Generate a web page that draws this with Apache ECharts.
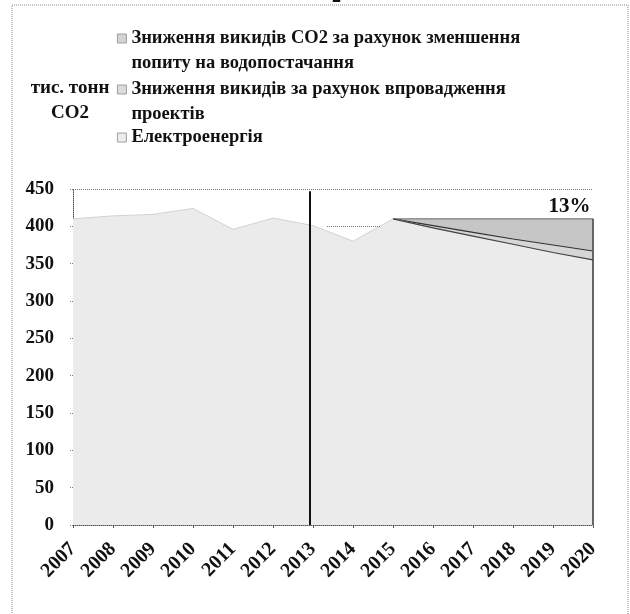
<!DOCTYPE html>
<html>
<head>
<meta charset="utf-8">
<script src="https://cdn.jsdelivr.net/npm/echarts@6/dist/echarts.min.js"></script>
<style>
  html, body { margin: 0; padding: 0; background: #ffffff; }
  #chart { width: 630px; height: 614px; }
</style>
</head>
<body>
<div id="chart"></div>
<script>
// Years on the horizontal axis
const years = [2007, 2008, 2009, 2010, 2011, 2012, 2013, 2014, 2015, 2016, 2017, 2018, 2019, 2020];

// Emissions from electricity, thousand tonnes CO2
const electricity = [410, 414, 416, 424, 396, 411, 401, 380, 410, 398, 387, 376, 365, 355];
// Reduction from implemented projects (only from 2015)
const projectReduction = [null, null, null, null, null, null, null, null, 0, 3, 5, 7, 10, 12];
// Reduction from lower water-supply demand (only from 2015)
const demandReduction = [null, null, null, null, null, null, null, null, 0, 9, 18, 27, 35, 43];

// Y axis ticks
const yTicks = [0, 50, 100, 150, 200, 250, 300, 350, 400, 450];

const nameDemand = 'Зниження викидів CO2 за рахунок зменшення\nпопиту на водопостачання';
const nameProjects = 'Зниження викидів за рахунок впровадження\nпроектів';
const nameElectricity = 'Електроенергія';

const serif = '"Liberation Serif", "Times New Roman", serif';

// Layers are drawn as cumulative totals, each filled down to zero
const withProjects = electricity.map((v, i) => projectReduction[i] == null ? null : v + projectReduction[i]);
const withDemand = withProjects.map((v, i) => v == null || demandReduction[i] == null ? null : v + demandReduction[i]);
const electricityForecast = electricity.map((v, i) => projectReduction[i] == null ? null : v);

const toPairs = arr => years.map((y, i) => [y, arr[i]]);

// Share of emissions cut by 2020
const last = years.length - 1;
const cutShare = Math.round((projectReduction[last] + demandReduction[last]) / withDemand[last] * 100);

const chart = echarts.init(document.getElementById('chart'), null, { renderer: 'canvas' });

function legendBlock(name, top, color, leadingBlank) {
  return {
    data: [name],
    orient: 'vertical',
    left: 117,
    top: top,
    padding: 0,
    itemWidth: 9,
    itemHeight: 9,
    itemGap: 0,
    icon: 'rect',
    selectedMode: false,
    itemStyle: { color: color, borderColor: '#8a8a8a', borderWidth: 0.8 },
    formatter: n => (leadingBlank ? '\n' : '') + n,
    textStyle: {
      fontFamily: serif, fontWeight: 'bold', fontSize: 18.5,
      lineHeight: 25, color: '#111'
    }
  };
}

const option = {
  backgroundColor: '#ffffff',
  animation: false,
  legend: [
    legendBlock(nameDemand, 1, '#d4d4d4', true),
    legendBlock(nameProjects, 52, '#dcdcdc', true),
    legendBlock(nameElectricity, 125, '#ececec', false)
  ],
  grid: { left: 73, right: 37, top: 189, bottom: 89, containLabel: false },
  xAxis: {
    type: 'value',
    min: years[0],
    max: years[years.length - 1],
    interval: 1,
    axisLine: { show: true, lineStyle: { color: '#555', type: 'dotted', width: 1 } },
    axisTick: { show: true, length: 3, lineStyle: { color: '#555' } },
    splitLine: { show: false },
    axisLabel: {
      rotate: 45, margin: 21,
      formatter: v => String(v),
      fontFamily: serif, fontWeight: 'bold', fontSize: 20, color: '#111'
    }
  },
  yAxis: {
    type: 'value',
    min: yTicks[0],
    max: yTicks[yTicks.length - 1],
    interval: yTicks[1] - yTicks[0],
    axisLine: { show: true, lineStyle: { color: '#555', type: 'dotted', width: 1 } },
    axisTick: { show: true, length: 4, lineStyle: { color: '#777', type: 'dotted' } },
    splitLine: { show: false },
    axisLabel: {
      margin: 19,
      fontFamily: serif, fontWeight: 'bold', fontSize: 19, color: '#111'
    }
  },
  graphic: [
    {
      type: 'rect', silent: true, z: -1,
      shape: { x: 12, y: 5, width: 616, height: 620 },
      style: { fill: null, stroke: '#888', lineWidth: 1, lineDash: [1, 1] }
    },
    {
      type: 'text', silent: true,
      style: { x: 332, y: -12, text: '2', font: 'bold 18px ' + serif, fill: '#111' }
    },
    {
      type: 'text', silent: true,
      style: {
        x: 70, y: 76, text: 'тис. тонн\nCO2', font: 'bold 19px ' + serif, fill: '#111',
        align: 'center', verticalAlign: 'top', lineHeight: 25
      }
    }
  ],
  series: [
    {
      name: nameDemand,
      type: 'line',
      symbol: 'none',
      data: toPairs(withDemand),
      lineStyle: { color: '#666', width: 1 },
      itemStyle: { color: '#d4d4d4' },
      areaStyle: { color: '#c6c6c6', opacity: 1, origin: 'start' },
      markPoint: {
        symbol: 'circle',
        symbolSize: 1,
        itemStyle: { color: 'rgba(0,0,0,0)' },
        label: {
          show: true, position: 'left', distance: 2,
          formatter: () => cutShare + '%',
          fontFamily: serif, fontWeight: 'bold', fontSize: 21, color: '#111'
        },
        data: [{ coord: [2020, 426] }]
      },
      z: 2
    },
    {
      name: nameProjects,
      type: 'line',
      symbol: 'none',
      data: toPairs(withProjects),
      lineStyle: { color: '#333', width: 1.2 },
      itemStyle: { color: '#dcdcdc' },
      areaStyle: { color: '#d6d6d6', opacity: 1, origin: 'start' },
      z: 3
    },
    {
      name: nameElectricity,
      type: 'line',
      symbol: 'none',
      data: toPairs(electricity),
      lineStyle: { color: '#d2d2d2', width: 1 },
      itemStyle: { color: '#ececec' },
      areaStyle: { color: '#ebebeb', opacity: 1, origin: 'start' },
      markLine: {
        silent: true,
        symbol: 'none',
        label: { show: false },
        data: [
          [{ coord: [2012.92, 0], lineStyle: { color: '#111', width: 2, type: 'solid' } },
           { coord: [2012.92, 447] }],
          [{ coord: [2020, 0], lineStyle: { color: '#666', width: 2, type: 'solid' } },
           { coord: [2020, 410] }],
          [{ coord: [2007, 450], lineStyle: { color: '#777', width: 1, type: 'dotted' } },
           { coord: [2020, 450] }],
          [{ coord: [2013.35, 400], lineStyle: { color: '#777', width: 1, type: 'dotted' } },
           { coord: [2014.7, 400] }]
        ]
      },
      z: 4
    },
    {
      // Lower edge of the reduction wedges
      name: 'electricityForecast',
      type: 'line',
      symbol: 'none',
      data: toPairs(electricityForecast),
      lineStyle: { color: '#444', width: 1.2 },
      z: 5
    }
  ]
};

chart.setOption(option);
</script>
</body>
</html>
